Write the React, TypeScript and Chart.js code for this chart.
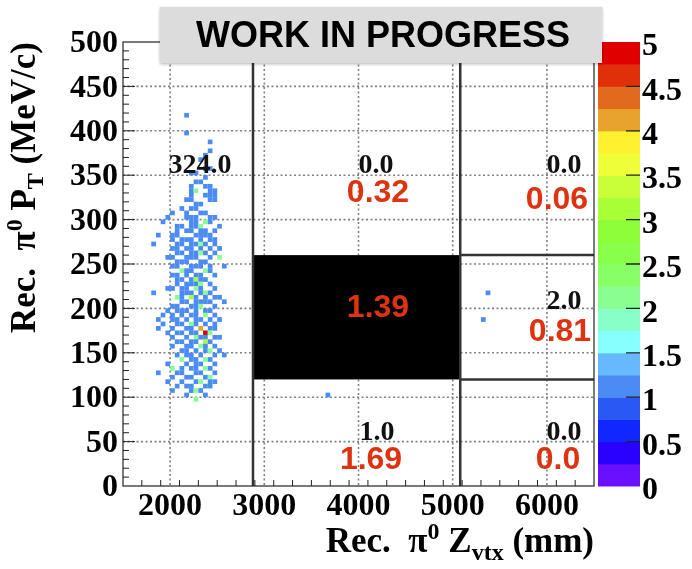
import React, { useEffect, useRef } from 'react';
import { Chart, registerables } from 'chart.js';

Chart.register(...registerables);

// ---------- axis ranges & ticks ----------
const X_MIN = 1500;
const X_MAX = 6500;
const Y_MIN = 0;
const Y_MAX = 500;
const Z_MIN = 0;
const Z_MAX = 5;
const X_TICKS = [2000, 3000, 4000, 5000, 6000];
const Y_STEP = 50;
const Z_STEP = 0.5;
const X_MINOR = 200;
const Y_MINOR = 10;

// ---------- fine binning of the 2D histogram ----------
const BIN_W = 50;
const BIN_H = 5;

// ---------- region boundaries (coarse binning) ----------
const BOUND_X = [2880, 5080];
const BOUND_Y = [120, 260];

// ---------- colour palette (20 levels, bottom to top) ----------
const PALETTE = [
  '#6a10ff', '#2a00ff', '#1028ff', '#2a58f4', '#4a8cf4',
  '#66b8ff', '#88ffff', '#88ffc8', '#88ff90', '#88ff66',
  '#88ff48', '#8cff3a', '#a8ff38', '#c8ff38', '#eeff3a',
  '#fff030', '#e8a22e', '#e26a1c', '#e0300a', '#e00000',
];

// ---------- cells: [x bin centre (mm), y bin centre (MeV/c), entries] ----------
const CELLS: [number, number, number][] = [
  [2175, 417.5, 1],
  [2175, 397.5, 1],
  [2425, 387.5, 1],
  [2425, 377.5, 1],
  [2375, 372.5, 1],
  [2325, 367.5, 1],
  [2375, 357.5, 1], [2425, 357.5, 1],
  [2225, 352.5, 1], [2275, 352.5, 1],
  [2375, 347.5, 1],
  [2275, 342.5, 1], [2325, 342.5, 1],
  [2225, 337.5, 1], [2375, 337.5, 1], [2425, 337.5, 1],
  [2225, 332.5, 1], [2275, 332.5, 2], [2425, 332.5, 1], [2475, 332.5, 1],
  [2225, 327.5, 1], [2375, 327.5, 1], [2425, 327.5, 1], [2475, 327.5, 1],
  [2175, 322.5, 1], [2225, 322.5, 1], [2425, 322.5, 1], [2475, 322.5, 1],
  [2275, 317.5, 1], [2325, 317.5, 1],
  [2125, 312.5, 1], [2225, 312.5, 1], [2275, 312.5, 1],
  [2025, 307.5, 1], [2175, 307.5, 1], [2325, 307.5, 1], [2375, 307.5, 1],
  [1975, 302.5, 1], [2175, 302.5, 1], [2225, 302.5, 1], [2275, 302.5, 1], [2425, 302.5, 1], [2475, 302.5, 1],
  [1925, 297.5, 1], [2225, 297.5, 1], [2275, 297.5, 1], [2375, 297.5, 2], [2425, 297.5, 1],
  [2075, 292.5, 1], [2125, 292.5, 1], [2225, 292.5, 1], [2275, 292.5, 1], [2325, 292.5, 2], [2525, 292.5, 1],
  [2075, 287.5, 1], [2175, 287.5, 1], [2225, 287.5, 1], [2325, 287.5, 1], [2375, 287.5, 1], [2475, 287.5, 1],
  [1875, 282.5, 1], [2025, 282.5, 1], [2075, 282.5, 1], [2275, 282.5, 1], [2325, 282.5, 1], [2375, 282.5, 1], [2425, 282.5, 1],
  [2025, 277.5, 1], [2125, 277.5, 1], [2175, 277.5, 1], [2225, 277.5, 1], [2325, 277.5, 1], [2425, 277.5, 1], [2475, 277.5, 1],
  [1825, 272.5, 1], [2075, 272.5, 1], [2125, 272.5, 1], [2225, 272.5, 1], [2275, 272.5, 1], [2325, 272.5, 2], [2375, 272.5, 1], [2475, 272.5, 1],
  [2025, 267.5, 1], [2075, 267.5, 1], [2175, 267.5, 1], [2225, 267.5, 1], [2325, 267.5, 1], [2425, 267.5, 1], [2525, 267.5, 1],
  [2075, 262.5, 1], [2125, 262.5, 1], [2225, 262.5, 1], [2275, 262.5, 1], [2325, 262.5, 2], [2375, 262.5, 1], [2475, 262.5, 1],
  [1975, 257.5, 1], [2025, 257.5, 1], [2175, 257.5, 1], [2225, 257.5, 1], [2275, 257.5, 1], [2425, 257.5, 1], [2525, 257.5, 2],
  [2075, 252.5, 1], [2125, 252.5, 1], [2175, 252.5, 1], [2325, 252.5, 1], [2375, 252.5, 1],
  [2025, 247.5, 1], [2075, 247.5, 1], [2225, 247.5, 1], [2275, 247.5, 1], [2325, 247.5, 1], [2425, 247.5, 1], [2575, 247.5, 1],
  [2125, 242.5, 2], [2175, 242.5, 1], [2225, 242.5, 1], [2375, 242.5, 2], [2425, 242.5, 1],
  [2025, 237.5, 1], [2075, 237.5, 1], [2175, 237.5, 1], [2275, 237.5, 1], [2325, 237.5, 1], [2475, 237.5, 1],
  [2075, 232.5, 1], [2125, 232.5, 1], [2225, 232.5, 1], [2275, 232.5, 3], [2325, 232.5, 1], [2375, 232.5, 1],
  [2075, 227.5, 1], [2175, 227.5, 1], [2225, 227.5, 1], [2275, 227.5, 1], [2325, 227.5, 2], [2425, 227.5, 1],
  [1975, 222.5, 1], [2025, 222.5, 1], [2125, 222.5, 1], [2175, 222.5, 1], [2275, 222.5, 2], [2325, 222.5, 1], [2475, 222.5, 1],
  [1825, 217.5, 1], [2125, 217.5, 1], [2175, 217.5, 1], [2225, 217.5, 1], [2325, 217.5, 1], [2375, 217.5, 2], [2425, 217.5, 1],
  [2075, 212.5, 2], [2125, 212.5, 1], [2225, 212.5, 3], [2275, 212.5, 1], [2375, 212.5, 1], [2475, 212.5, 1], [2525, 212.5, 1],
  [2125, 207.5, 1], [2175, 207.5, 1], [2275, 207.5, 1], [2325, 207.5, 1], [2375, 207.5, 1], [2425, 207.5, 1], [2575, 207.5, 1],
  [2025, 202.5, 1], [2075, 202.5, 1], [2225, 202.5, 1], [2275, 202.5, 1], [2325, 202.5, 2], [2475, 202.5, 1],
  [1975, 197.5, 1], [2075, 197.5, 1], [2125, 197.5, 1], [2175, 197.5, 1], [2275, 197.5, 1], [2375, 197.5, 1], [2425, 197.5, 1],
  [1925, 192.5, 1], [2025, 192.5, 1], [2125, 192.5, 1], [2225, 192.5, 1], [2275, 192.5, 1], [2375, 192.5, 2], [2475, 192.5, 1],
  [1875, 187.5, 1], [2025, 187.5, 1], [2075, 187.5, 1], [2175, 187.5, 1], [2275, 187.5, 1], [2325, 187.5, 1], [2425, 187.5, 1], [2525, 187.5, 1],
  [1925, 182.5, 1], [2075, 182.5, 1], [2125, 182.5, 1], [2225, 182.5, 2], [2275, 182.5, 1], [2375, 182.5, 1], [2475, 182.5, 1],
  [1875, 177.5, 1], [2025, 177.5, 1], [2175, 177.5, 1], [2225, 177.5, 1], [2325, 177.5, 4], [2425, 177.5, 1], [2475, 177.5, 1],
  [1975, 172.5, 1], [2075, 172.5, 1], [2125, 172.5, 1], [2225, 172.5, 1], [2275, 172.5, 1], [2375, 172.5, 5], [2425, 172.5, 2],
  [2025, 167.5, 1], [2175, 167.5, 1], [2275, 167.5, 2], [2325, 167.5, 1], [2375, 167.5, 1], [2475, 167.5, 1], [2525, 167.5, 1],
  [2075, 162.5, 1], [2125, 162.5, 1], [2225, 162.5, 1], [2275, 162.5, 1], [2375, 162.5, 3], [2425, 162.5, 1],
  [2025, 157.5, 1], [2175, 157.5, 1], [2225, 157.5, 1], [2325, 157.5, 2], [2375, 157.5, 1], [2475, 157.5, 1],
  [2125, 152.5, 1], [2175, 152.5, 1], [2275, 152.5, 1], [2375, 152.5, 1], [2425, 152.5, 2], [2525, 152.5, 1],
  [2075, 147.5, 1], [2175, 147.5, 1], [2225, 147.5, 1], [2325, 147.5, 1], [2475, 147.5, 1], [2575, 147.5, 1],
  [2125, 142.5, 2], [2225, 142.5, 1], [2275, 142.5, 1], [2375, 142.5, 2], [2425, 142.5, 1],
  [1975, 137.5, 1], [2175, 137.5, 1], [2275, 137.5, 1], [2325, 137.5, 1], [2475, 137.5, 1],
  [2025, 132.5, 2], [2125, 132.5, 1], [2225, 132.5, 1], [2275, 132.5, 1], [2375, 132.5, 2], [2425, 132.5, 1],
  [1875, 127.5, 1], [2075, 127.5, 1], [2125, 127.5, 1], [2275, 127.5, 1], [2325, 127.5, 1], [2475, 127.5, 1],
  [2025, 122.5, 1], [2175, 122.5, 1], [2225, 122.5, 1], [2375, 122.5, 1], [2425, 122.5, 2],
  [1975, 117.5, 1], [2125, 117.5, 1], [2275, 117.5, 1], [2325, 117.5, 2], [2425, 117.5, 1], [2475, 117.5, 1],
  [2075, 112.5, 1], [2175, 112.5, 1], [2225, 112.5, 1], [2375, 112.5, 1], [2425, 112.5, 1],
  [2025, 107.5, 1], [2225, 107.5, 1], [2275, 107.5, 2], [2325, 107.5, 1],
  [2175, 102.5, 1], [2375, 102.5, 1],
  [2275, 97.5, 2],
  // middle and right regions
  [3675, 102.5, 1],
  [5375, 217.5, 1],
  [5325, 187.5, 1],
];

// ---------- region texts ----------
const COUNT_TEXT = ['324.0', '0.0', '0.0', '2.0', '1.0', '0.0'];
const COUNT_X = [2317, 4186, 6182, 6182, 4196, 6182];
const COUNT_Y = [361, 361, 361, 208, 60, 60];
const RATIO_TEXT = ['0.32', '0.06', '1.39', '0.81', '1.69', '0.0'];
const RATIO_X = [4207, 6107, 4207, 6139, 4133, 6118];
const RATIO_Y = [330, 322, 200.5, 173, 29, 29];

const BANNER_TEXT = 'WORK IN PROGRESS';

type Part = { t: string; k: 'n' | 'sup' | 'sub' };
const X_TITLE: Part[] = [
  { t: 'Rec.  π', k: 'n' }, { t: '0', k: 'sup' }, { t: ' Z', k: 'n' }, { t: 'vtx', k: 'sub' }, { t: ' (mm)', k: 'n' },
];
const Y_TITLE: Part[] = [
  { t: 'Rec.  π', k: 'n' }, { t: '0', k: 'sup' }, { t: ' P', k: 'n' }, { t: 'T', k: 'sub' }, { t: ' (MeV/c)', k: 'n' },
];

const SERIF = '"Liberation Serif", "Times New Roman", serif';
const SANS = '"Liberation Sans", Arial, sans-serif';

function colorFor(v: number): string {
  const idx = Math.max(0, Math.min(PALETTE.length - 1, Math.floor(((v - Z_MIN) / (Z_MAX - Z_MIN)) * PALETTE.length)));
  return PALETTE[idx];
}

function drawRich(ctx: CanvasRenderingContext2D, parts: Part[], size: number, endX: number, baseY: number) {
  const fontFor = (k: string) => `bold ${k === 'n' ? size : Math.round(size * 0.68)}px ${SERIF}`;
  let total = 0;
  const widths = parts.map((p) => {
    ctx.font = fontFor(p.k);
    const w = ctx.measureText(p.t).width;
    total += w;
    return w;
  });
  let x = endX - total;
  ctx.textAlign = 'left';
  ctx.textBaseline = 'alphabetic';
  parts.forEach((p, i) => {
    ctx.font = fontFor(p.k);
    const dy = p.k === 'sup' ? -size * 0.36 : p.k === 'sub' ? size * 0.24 : 0;
    ctx.fillText(p.t, x, baseY + dy);
    x += widths[i];
  });
}

const zeroPad = (s: any) => {
  s.paddingTop = 0;
  s.paddingBottom = 0;
  s.paddingLeft = 0;
  s.paddingRight = 0;
};

const overlayPlugin = {
  id: 'overlay',
  beforeDatasetsDraw(chart: any) {
    const { ctx, scales, chartArea } = chart;
    const x = scales.x;
    const y = scales.y;
    const { left, right, top, bottom } = chartArea;
    ctx.save();
    // dotted grid
    ctx.strokeStyle = '#808080';
    ctx.lineWidth = 1.6;
    ctx.setLineDash([2, 2.5]);
    ctx.beginPath();
    X_TICKS.forEach((v) => {
      const px = x.getPixelForValue(v);
      ctx.moveTo(px, top);
      ctx.lineTo(px, bottom);
    });
    for (let v = Y_MIN + Y_STEP; v < Y_MAX; v += Y_STEP) {
      const py = y.getPixelForValue(v);
      ctx.moveTo(left, py);
      ctx.lineTo(right, py);
    }
    ctx.stroke();
    ctx.setLineDash([]);
    // black region
    const x0 = x.getPixelForValue(BOUND_X[0]);
    const x1 = x.getPixelForValue(BOUND_X[1]);
    const y0 = y.getPixelForValue(BOUND_Y[1]);
    const y1 = y.getPixelForValue(BOUND_Y[0]);
    ctx.fillStyle = '#000000';
    ctx.fillRect(x0, y0, x1 - x0, y1 - y0);
    ctx.restore();
  },
  afterDatasetsDraw(chart: any) {
    const { ctx, scales, chartArea } = chart;
    const x = scales.x;
    const y = scales.y;
    const z = scales.z;
    const { left, right, top, bottom } = chartArea;

    ctx.save();
    // region boundary lines
    ctx.strokeStyle = '#333333';
    ctx.lineWidth = 2.5;
    ctx.beginPath();
    BOUND_X.forEach((bx) => {
      const px = x.getPixelForValue(bx);
      ctx.moveTo(px, y.getPixelForValue(Y_MIN));
      ctx.lineTo(px, y.getPixelForValue(Y_MAX));
    });
    BOUND_Y.forEach((by) => {
      const py = y.getPixelForValue(by);
      ctx.moveTo(x.getPixelForValue(BOUND_X[1]), py);
      ctx.lineTo(x.getPixelForValue(X_MAX), py);
    });
    ctx.stroke();

    // frame
    ctx.strokeStyle = '#222222';
    ctx.lineWidth = 1.2;
    ctx.strokeRect(left, top, right - left, bottom - top);

    // inside ticks
    ctx.lineWidth = 1;
    ctx.beginPath();
    for (let v = X_MIN + X_MINOR; v < X_MAX; v += X_MINOR) {
      const px = x.getPixelForValue(v);
      const len = v % 1000 === 0 ? 12 : 6;
      ctx.moveTo(px, bottom);
      ctx.lineTo(px, bottom - len);
    }
    for (let v = Y_MIN + Y_MINOR; v < Y_MAX; v += Y_MINOR) {
      const py = y.getPixelForValue(v);
      const len = v % Y_STEP === 0 ? 12 : 6;
      ctx.moveTo(left, py);
      ctx.lineTo(left + len, py);
    }
    ctx.stroke();

    // colour bar
    const cbL = right + 4;
    const cbR = right + 46;
    for (let i = 0; i < PALETTE.length; i++) {
      const v0 = Z_MIN + ((Z_MAX - Z_MIN) * i) / PALETTE.length;
      const v1 = Z_MIN + ((Z_MAX - Z_MIN) * (i + 1)) / PALETTE.length;
      const p0 = z.getPixelForValue(v0);
      const p1 = z.getPixelForValue(v1);
      ctx.fillStyle = PALETTE[i];
      ctx.fillRect(cbL, p1, cbR - cbL, p0 - p1 + 0.5);
    }
    ctx.strokeStyle = '#222222';
    ctx.lineWidth = 1.3;
    ctx.beginPath();
    for (let v = Z_MIN + Z_STEP; v < Z_MAX; v += Z_STEP) {
      const py = z.getPixelForValue(v);
      ctx.moveTo(cbR - 14, py);
      ctx.lineTo(cbR, py);
    }
    ctx.stroke();

    // region count texts
    ctx.fillStyle = '#111111';
    ctx.font = `bold 28px ${SERIF}`;
    ctx.textAlign = 'center';
    ctx.textBaseline = 'middle';
    COUNT_TEXT.forEach((t, i) => {
      ctx.fillText(t, x.getPixelForValue(COUNT_X[i]), y.getPixelForValue(COUNT_Y[i]));
    });
    // ratio texts
    ctx.fillStyle = '#dd3311';
    ctx.font = `bold 32px ${SANS}`;
    RATIO_TEXT.forEach((t, i) => {
      ctx.fillText(t, x.getPixelForValue(RATIO_X[i]), y.getPixelForValue(RATIO_Y[i]));
    });

    // axis titles
    ctx.fillStyle = '#000000';
    drawRich(ctx, X_TITLE, 35, right, 552);
    ctx.save();
    ctx.translate(35, top);
    ctx.rotate(-Math.PI / 2);
    drawRich(ctx, Y_TITLE, 35, 0, 0);
    ctx.restore();

    // banner
    ctx.save();
    ctx.shadowColor = 'rgba(0,0,0,0.3)';
    ctx.shadowBlur = 3;
    ctx.shadowOffsetY = 1;
    ctx.fillStyle = '#dcdcdc';
    ctx.fillRect(160, 7, 442, 56);
    ctx.restore();
    ctx.fillStyle = '#000000';
    ctx.font = `bold 36px ${SANS}`;
    ctx.textAlign = 'center';
    ctx.textBaseline = 'alphabetic';
    ctx.fillText(BANNER_TEXT, 383, 47);
    ctx.restore();
  },
};

export default function App() {
  const ref = useRef<HTMLCanvasElement | null>(null);
  useEffect(() => {
    if (!ref.current) return;
    const chart = new Chart(ref.current, {
      type: 'scatter',
      data: {
        datasets: [
          {
            data: CELLS.map(([cx, cy, n]) => ({ x: cx, y: cy, n })) as any,
            pointStyle: 'rect',
            pointRadius: (c: any) => {
              const s = c.chart.scales.x;
              return Math.abs(s.getPixelForValue(BIN_W) - s.getPixelForValue(0)) / Math.SQRT2;
            },
            pointHoverRadius: 0,
            backgroundColor: (c: any) => colorFor(c.raw ? c.raw.n : 1),
            borderWidth: 0,
          } as any,
        ],
      },
      options: {
        responsive: false,
        animation: false,
        devicePixelRatio: 1,
        events: [],
        layout: { padding: { left: 0, right: 0, top: 42, bottom: 0 } },
        plugins: { legend: { display: false }, tooltip: { enabled: false } },
        scales: {
          x: {
            type: 'linear',
            min: X_MIN,
            max: X_MAX,
            afterBuildTicks: (s: any) => {
              s.ticks = X_TICKS.map((v) => ({ value: v }));
            },
            afterFit: (s: any) => {
              s.height = 83;
              zeroPad(s);
            },
            ticks: {
              autoSkip: false,
              maxRotation: 0,
              padding: 2,
              color: '#000000',
              font: { family: SERIF, size: 32, weight: 'bold' },
              callback: (v: any) => String(v),
            },
            grid: { display: false, drawTicks: false },
            border: { display: false },
          },
          y: {
            type: 'linear',
            min: Y_MIN,
            max: Y_MAX,
            afterFit: (s: any) => {
              s.width = 123;
              zeroPad(s);
            },
            ticks: {
              stepSize: Y_STEP,
              autoSkip: false,
              padding: 5,
              labelOffset: 2,
              color: '#000000',
              font: { family: SERIF, size: 32, weight: 'bold' },
              callback: (v: any) => String(v),
            },
            grid: { display: false, drawTicks: false },
            border: { display: false },
          },
          z: {
            type: 'linear',
            position: 'right',
            min: Z_MIN,
            max: Z_MAX,
            afterFit: (s: any) => {
              s.width = 98;
              zeroPad(s);
            },
            ticks: {
              stepSize: Z_STEP,
              autoSkip: false,
              padding: 48,
              labelOffset: 5,
              color: '#000000',
              font: { family: SERIF, size: 32, weight: 'bold' },
              callback: (v: any) => String(v),
            },
            grid: { display: false, drawTicks: false },
            border: { display: false },
          },
        },
      } as any,
      plugins: [overlayPlugin],
    });
    return () => chart.destroy();
  }, []);

  return (
    <div style={{ position: 'absolute', left: 0, top: 0, width: 692, height: 569, background: '#ffffff' }}>
      <canvas ref={ref} width={692} height={569} style={{ display: 'block' }} />
    </div>
  );
}
